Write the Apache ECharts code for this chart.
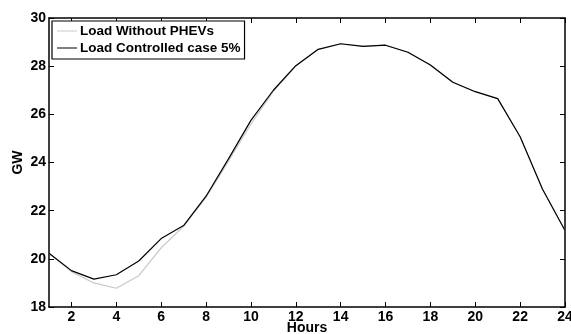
<!DOCTYPE html>
<html>
<head>
<meta charset="utf-8">
<script src="https://cdn.jsdelivr.net/npm/echarts@6/dist/echarts.min.js"></script>
<style>html,body{margin:0;padding:0;background:#fff}#c{width:571px;height:334px}</style>
</head>
<body>
<div id="c"></div>
<script>
const hours = [1,2,3,4,5,6,7,8,9,10,11,12,13,14,15,16,17,18,19,20,21,22,23,24];
const loadWithout = [20.23,19.47,19.0,18.78,19.3,20.46,21.35,22.55,24.05,25.6,26.95,28.0,28.7,28.92,28.83,28.87,28.58,28.05,27.33,26.94,26.65,25.07,22.89,21.18];
const loadControlled = [20.23,19.51,19.16,19.34,19.91,20.84,21.38,22.6,24.15,25.75,27.0,28.02,28.7,28.93,28.82,28.87,28.58,28.05,27.33,26.94,26.65,25.07,22.89,21.18];
const xTicks = [2,4,6,8,10,12,14,16,18,20,22,24];
const yTicks = [18,20,22,24,26,28,30];
const seriesNames = ['Load Without PHEVs','Load Controlled case 5%'];

const font = 'Liberation Sans, Arial, Helvetica, sans-serif';
const axisLine = {show:true, lineStyle:{color:'#000', width:1.5}};
const chart = echarts.init(document.getElementById('c'), null, {renderer:'canvas'});
const pair = arr => hours.map((h,i)=>[h,arr[i]]);
chart.setOption({
  animation:false,
  backgroundColor:'#fff',
  grid:{left:49, right:6, top:18, bottom:27, containLabel:false, outerBoundsMode:'none'},
  legend:{
    show:true, orient:'vertical', left:52, top:21,
    data:seriesNames,
    backgroundColor:'#fff', borderColor:'#000', borderWidth:1.2,
    padding:[3,4,4,5], itemGap:3, itemWidth:20, itemHeight:14,
    textStyle:{fontFamily:font, fontWeight:'bold', fontSize:13.5, color:'#000', padding:[0,0,0,-2]},
    icon:'path://M0,0L20,0L20,1L0,1Z'
  },
  xAxis:[{
    type:'value', min:1, max:24, position:'bottom',
    name:'Hours', nameLocation:'middle', nameGap:14, nameMoveOverlap:false,
    nameTextStyle:{fontFamily:font, fontWeight:'bold', fontSize:14, color:'#000'},
    axisLine:axisLine,
    axisTick:{show:true, inside:true, length:5, customValues:xTicks, lineStyle:{color:'#000'}},
    axisLabel:{show:true, customValues:xTicks, margin:3, fontFamily:font, fontWeight:'bold', fontSize:14, color:'#000', hideOverlap:false},
    splitLine:{show:false}
  },{
    type:'value', min:1, max:24, position:'top',
    axisLine:axisLine,
    axisTick:{show:true, inside:true, length:5, customValues:xTicks, lineStyle:{color:'#000'}},
    axisLabel:{show:false},
    splitLine:{show:false}
  }],
  yAxis:[{
    type:'value', min:18, max:30, interval:2, position:'left',
    name:'GW', nameLocation:'middle', nameGap:24, nameRotate:90, nameMoveOverlap:false,
    nameTextStyle:{fontFamily:font, fontWeight:'bold', fontSize:14, color:'#000'},
    axisLine:axisLine,
    axisTick:{show:true, inside:true, length:5, lineStyle:{color:'#000'}},
    axisLabel:{show:true, margin:3, fontFamily:font, fontWeight:'bold', fontSize:14, color:'#000',
      formatter:v=>yTicks.includes(v)?String(v):''},
    splitLine:{show:false}
  },{
    type:'value', min:18, max:30, interval:2, position:'right',
    axisLine:axisLine,
    axisTick:{show:true, inside:true, length:5, lineStyle:{color:'#000'}},
    axisLabel:{show:false},
    splitLine:{show:false}
  }],
  series:[{
    name:seriesNames[0], type:'line', data:pair(loadWithout), showSymbol:false, symbol:'none',
    lineStyle:{color:'#c8c8c8', width:1.2}, itemStyle:{color:'#c8c8c8'}, z:2
  },{
    name:seriesNames[1], type:'line', data:pair(loadControlled), showSymbol:false, symbol:'none',
    lineStyle:{color:'#000', width:1.2}, itemStyle:{color:'#000'}, z:3
  }]
});
</script>
</body>
</html>
